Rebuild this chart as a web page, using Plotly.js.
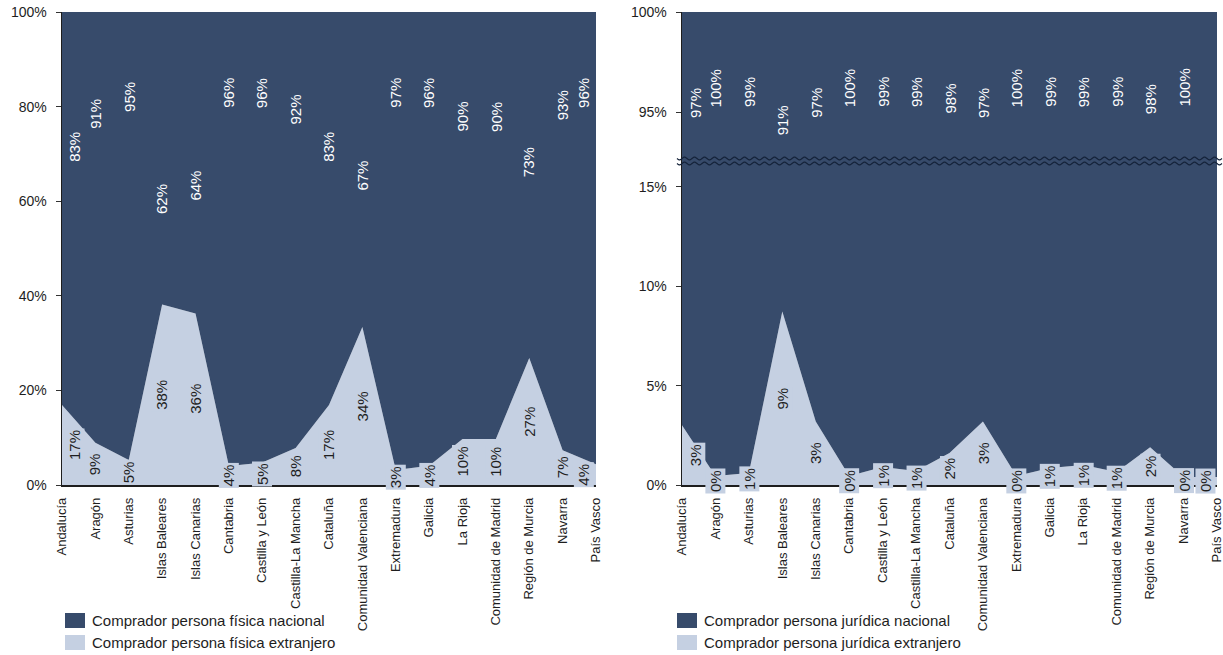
<!DOCTYPE html>
<html><head><meta charset="utf-8">
<script src="https://cdn.plot.ly/plotly-3.0.1.min.js"></script>
<style>html,body{margin:0;padding:0;background:#fff}#chart{width:1223px;height:655px}</style>
</head><body><div id="chart"></div>
<script>
// ---------- data ----------
const regions = ['Andalucía','Aragón','Asturias','Islas Baleares','Islas Canarias','Cantabria','Castilla y León','Castilla-La Mancha','Cataluña','Comunidad Valenciana','Extremadura','Galicia','La Rioja','Comunidad de Madrid','Región de Murcia','Navarra','País Vasco'];
const fisicaExtranjero = [16.9, 8.9, 5.3, 38.3, 36.4, 4.0, 4.8, 7.8, 16.9, 33.6, 3.2, 4.1, 9.7, 9.7, 26.8, 7.4, 4.4];
const fisicaNacional   = [83, 91, 95, 62, 64, 96, 96, 92, 83, 67, 97, 96, 90, 90, 73, 93, 96];
const juridicaExtranjero = [3.0, 0.45, 0.6, 8.7, 3.2, 0.45, 0.9, 0.7, 1.6, 3.2, 0.45, 0.85, 1.0, 0.65, 1.9, 0.4, 0.4];
const juridicaNacional   = [97, 100, 99, 91, 97, 100, 99, 99, 98, 97, 100, 99, 99, 99, 98, 100, 100];
const leftTicks = [0, 20, 40, 60, 80, 100];
const rightLowTicks = [0, 5, 10, 15];
const rightHighTicks = [95, 100];
const legendLeft = ['Comprador persona física nacional', 'Comprador persona física extranjero'];
const legendRight = ['Comprador persona jurídica nacional', 'Comprador persona jurídica extranjero'];

// ---------- styling helpers ----------
const FONT = 'Liberation Sans, Arial, Helvetica, sans-serif';
const DARK = '#374b6b', LIGHT = '#c5d0e2', INK = '#1e1e1e';
const W = 1223, H = 655;
const px = v => v / W, py = v => 1 - v / H;
const pct = v => v + '%';

// label placement helpers (where the source chart puts the white "nacional" labels)
function interp(anchors, v) {
  if (v <= anchors[0][0]) return anchors[0][1];
  for (let i = 1; i < anchors.length; i++) {
    if (v <= anchors[i][0]) {
      const [a0, b0] = anchors[i - 1], [a1, b1] = anchors[i];
      return b0 + (b1 - b0) * (v - a0) / (a1 - a0);
    }
  }
  return anchors[anchors.length - 1][1];
}
const leftNacPos = [[62,60.5],[64,63.2],[67,65.5],[73,68.3],[83,71.5],[90,77.8],[92,79.3],[96,82.9],[97,82.9]];
const rightNacPos = [[91,94.6],[97,95.45],[98,95.65],[99,96.0],[100,96.2]];

const norm = (a, b) => a.map((v, i) => 100 * v / (v + b[i]));
const fisExtN = norm(fisicaExtranjero, fisicaNacional);
const jurExtN = norm(juridicaExtranjero, juridicaNacional);

const edgeShift = i => (i === 0 ? 13 : (i === regions.length - 1 ? -12 : 0));

// ---------- traces ----------
function areaPair(ext, nac, xa, ya, grp) {
  return [
    {x: regions, y: ext, xaxis: xa, yaxis: ya, stackgroup: grp, groupnorm: 'percent', mode: 'none',
     fillcolor: LIGHT, hoverinfo: 'skip', line: {shape: 'linear'}},
    {x: regions, y: nac, xaxis: xa, yaxis: ya, stackgroup: grp, mode: 'none',
     fillcolor: DARK, hoverinfo: 'skip', line: {shape: 'linear'}}
  ];
}
const data = [
  ...areaPair(fisicaExtranjero, fisicaNacional, 'x', 'y', 'L'),
  ...areaPair(juridicaExtranjero, juridicaNacional, 'x2', 'y3', 'RL'),
  ...areaPair(juridicaExtranjero, juridicaNacional, 'x2', 'y2', 'RU')
];

// ---------- annotations ----------
const annotations = [];
regions.forEach((r, i) => {
  // left chart
  annotations.push({x: r, y: fisExtN[i] / 2, xref: 'x', yref: 'y', text: pct(Math.round(fisicaExtranjero[i])),
    textangle: -90, showarrow: false, font: {size: 15, color: INK, family: FONT}, bgcolor: LIGHT, borderpad: 1, xshift: edgeShift(i)});
  annotations.push({x: r, y: interp(leftNacPos, fisicaNacional[i]), xref: 'x', yref: 'y', text: pct(fisicaNacional[i]),
    textangle: -90, showarrow: false, font: {size: 15, color: '#ffffff', family: FONT}, xshift: edgeShift(i)});
  // right chart
  annotations.push({x: r, y: jurExtN[i] / 2, xref: 'x2', yref: 'y3', text: pct(Math.round(juridicaExtranjero[i])),
    textangle: -90, showarrow: false, font: {size: 15, color: INK, family: FONT}, bgcolor: LIGHT, borderpad: 1, xshift: edgeShift(i)});
  if (i < regions.length - 1) {
    annotations.push({x: r, y: interp(rightNacPos, juridicaNacional[i]), xref: 'x2', yref: 'y2', text: pct(juridicaNacional[i]),
      textangle: -90, showarrow: false, font: {size: 15, color: '#ffffff', family: FONT}, xshift: edgeShift(i)});
  }
});

// custom legends
const shapes = [];
function legend(items, x0) {
  const rows = [[613, 628], [635, 650]];
  items.forEach((t, k) => {
    shapes.push({type: 'rect', xref: 'paper', yref: 'paper', x0: px(x0), x1: px(x0 + 20), y0: py(rows[k][1]), y1: py(rows[k][0]),
      fillcolor: k === 0 ? DARK : LIGHT, line: {width: 0}});
    annotations.push({xref: 'paper', yref: 'paper', x: px(x0 + 25), y: py((rows[k][0] + rows[k][1]) / 2), xanchor: 'left', yanchor: 'middle',
      text: t, showarrow: false, font: {size: 15, color: INK, family: FONT}});
  });
}
legend(legendLeft, 65);
legend(legendRight, 677);

// axis-break wavy lines
function wave(yc) {
  let d = '';
  for (let x = 677; x <= 1222; x += 1) {
    const y = yc + 1.4 * Math.sin((x - 677) * 2 * Math.PI / 10);
    d += (d ? ' L ' : 'M ') + px(x).toFixed(5) + ',' + py(y).toFixed(5);
  }
  return d;
}
shapes.push({type: 'path', xref: 'paper', yref: 'paper', path: wave(158.5), line: {color: '#15233a', width: 1.2}, layer: 'above'});
shapes.push({type: 'path', xref: 'paper', yref: 'paper', path: wave(163.5), line: {color: '#15233a', width: 1.2}, layer: 'above'});

// ---------- axes ----------
const xBase = {type: 'category', range: [0, regions.length - 1], showline: true, linecolor: INK, linewidth: 1.5,
  ticks: '', tickangle: -90, tickfont: {size: 13, color: INK, family: FONT}, showgrid: false, zeroline: false,
  automargin: false, fixedrange: true, ticklabelstandoff: 6};
const yBase = {ticks: 'outside', ticklen: 5, tickcolor: '#333', tickwidth: 1, showline: true, linecolor: INK, linewidth: 1.5,
  showgrid: false, zeroline: false, automargin: false, fixedrange: true, ticklabelstandoff: 6,
  tickfont: {size: 14, color: INK, family: FONT}};

const layout = {
  width: W, height: H, margin: {l: 0, r: 0, t: 0, b: 0}, showlegend: false,
  paper_bgcolor: '#ffffff', plot_bgcolor: 'rgba(0,0,0,0)', font: {family: FONT, color: INK, size: 14},
  xaxis: Object.assign({}, xBase, {domain: [px(62), px(596)], anchor: 'y'}),
  yaxis: Object.assign({}, yBase, {domain: [py(485), py(12)], range: [0, 100], anchor: 'x',
    tickvals: leftTicks, ticktext: leftTicks.map(pct)}),
  xaxis2: Object.assign({}, xBase, {domain: [px(682), px(1217)], anchor: 'y3'}),
  yaxis2: Object.assign({}, yBase, {domain: [py(161), py(12)], range: [92.55, 100], anchor: 'x2',
    tickvals: rightHighTicks, ticktext: rightHighTicks.map(pct)}),
  yaxis3: Object.assign({}, yBase, {domain: [py(485), py(161)], range: [0, 16.3], anchor: 'x2',
    tickvals: rightLowTicks, ticktext: rightLowTicks.map(pct)}),
  annotations: annotations,
  shapes: shapes,
  hovermode: false
};

Plotly.newPlot('chart', data, layout, {displayModeBar: false, staticPlot: true});
</script>
</body></html>
